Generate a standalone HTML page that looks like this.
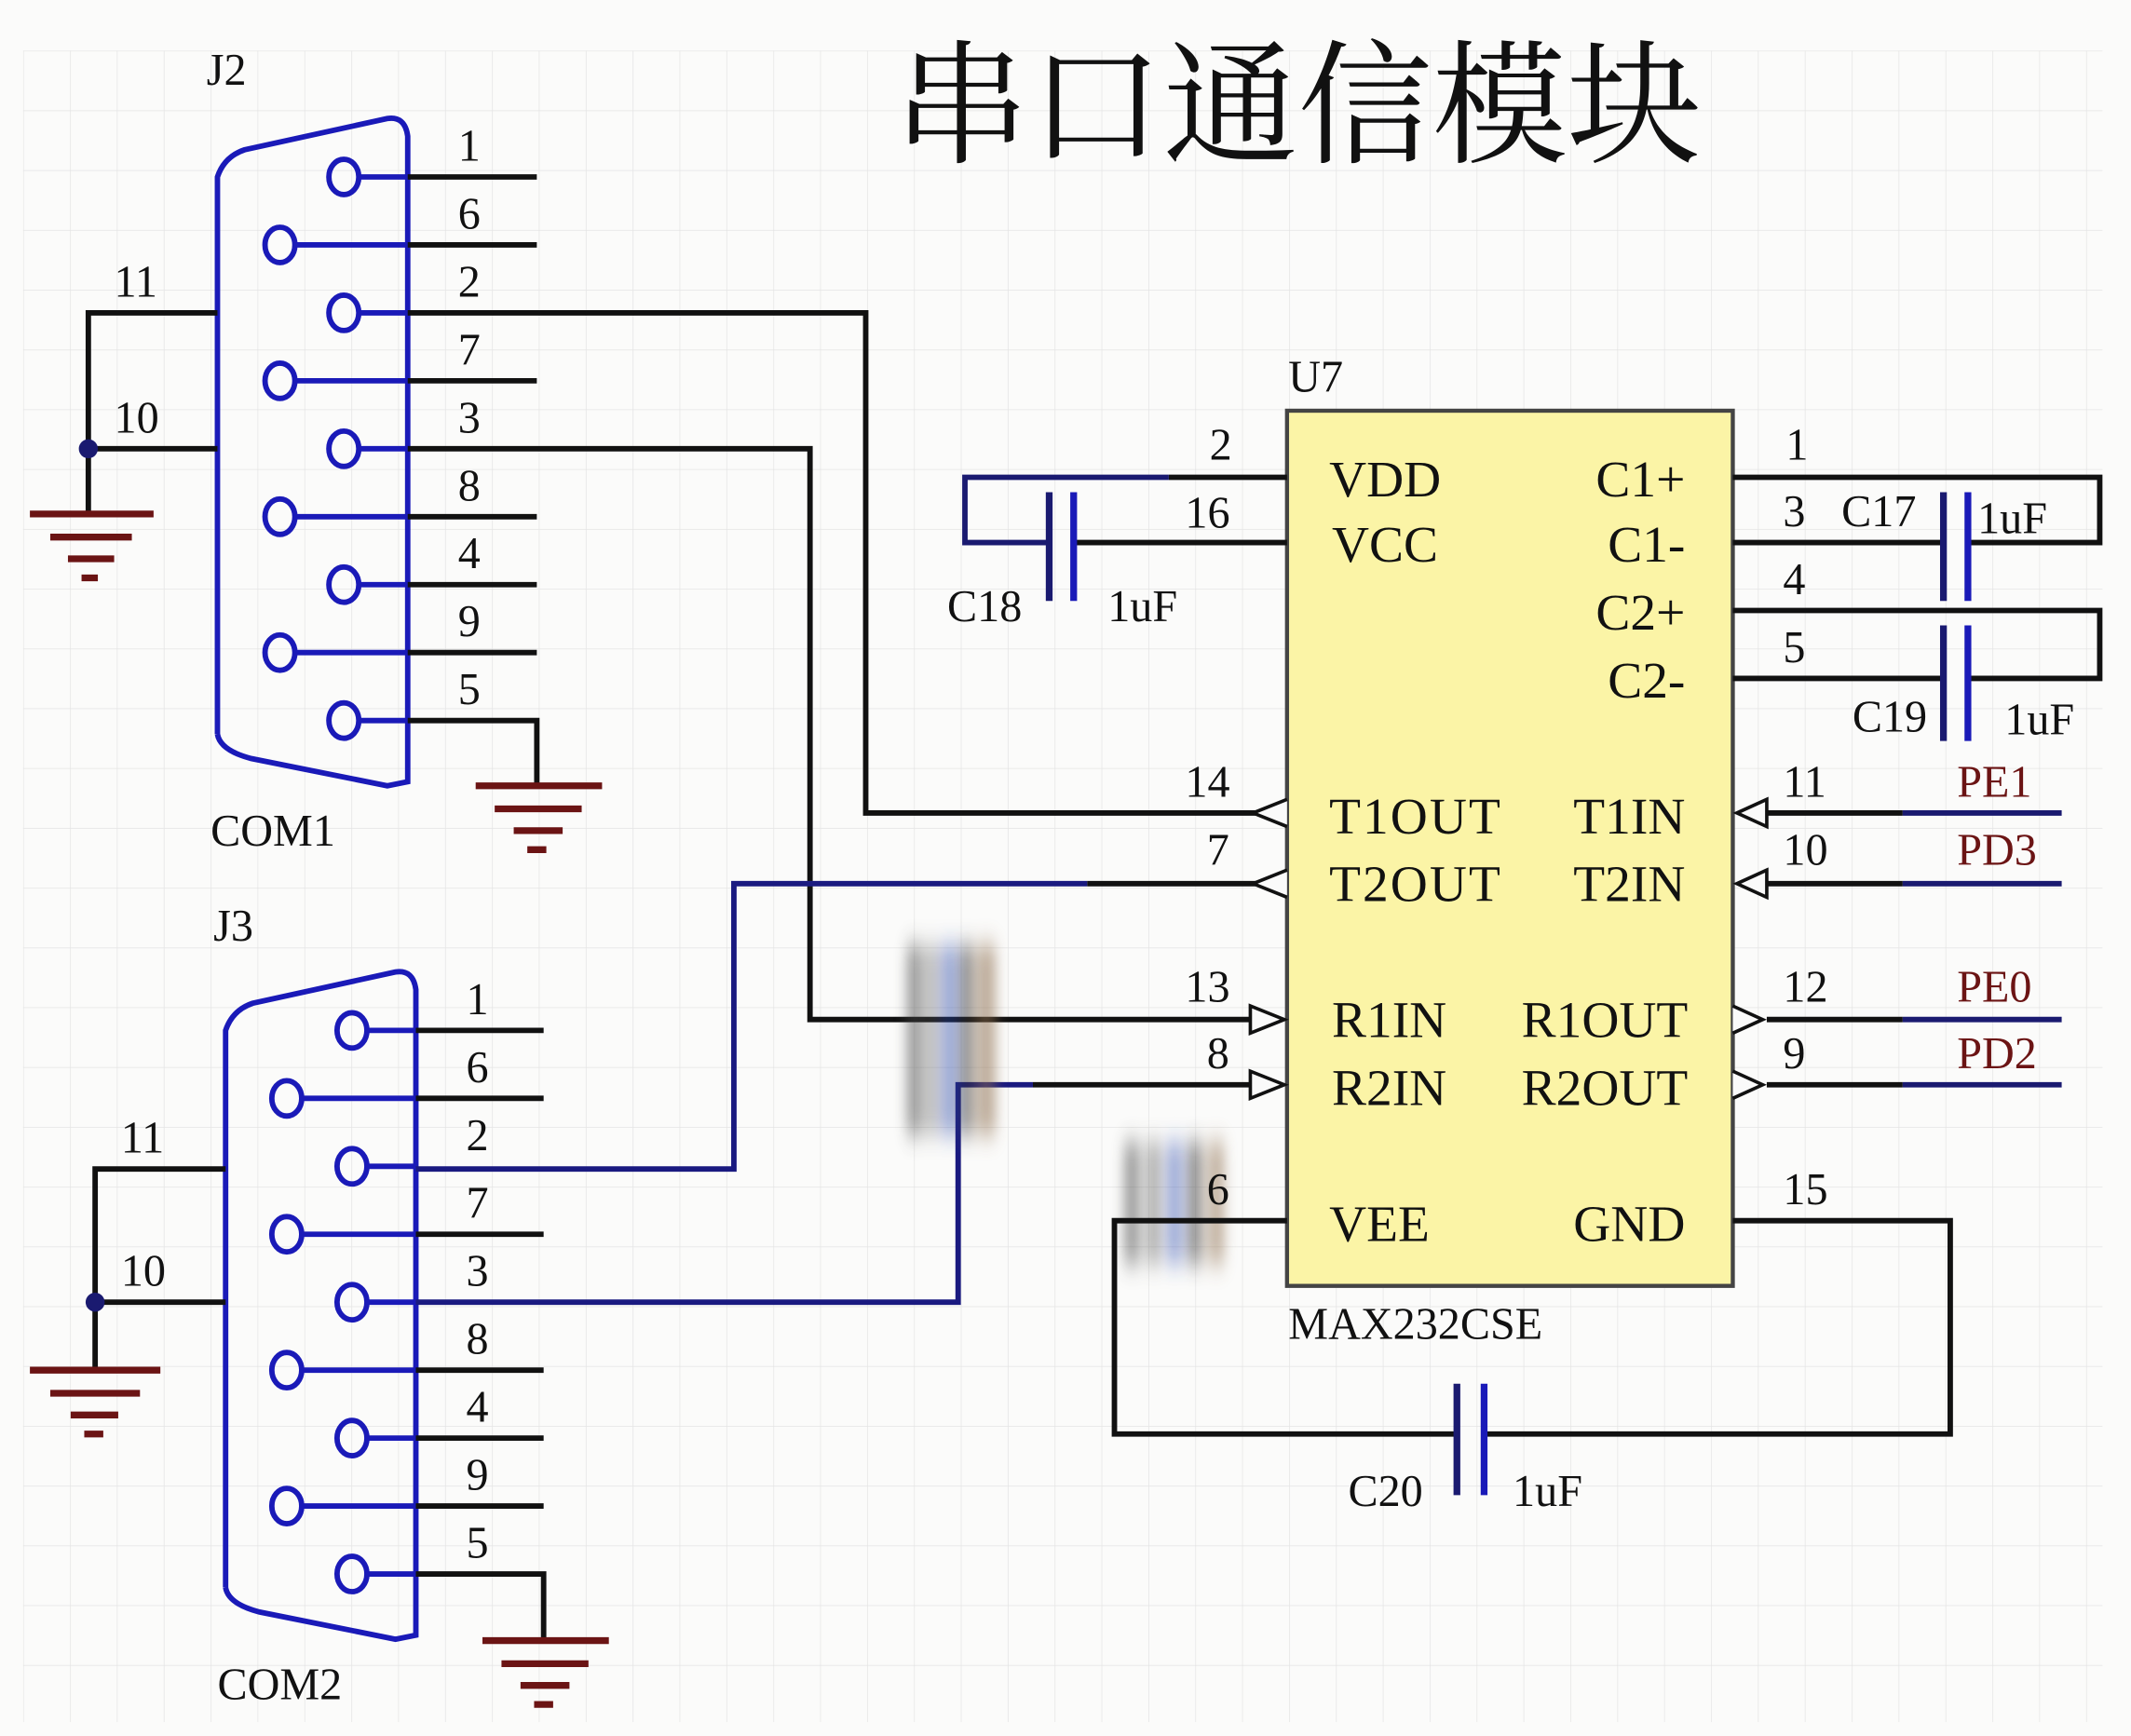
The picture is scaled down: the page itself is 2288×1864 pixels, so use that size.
<!DOCTYPE html>
<html><head><meta charset="utf-8"><style>
html,body{margin:0;padding:0;background:#fbfbfa;}
svg{display:block;}
text{font-family:"Liberation Serif","Noto Serif CJK SC",serif;fill:#111;}
</style></head><body>
<svg width="2288" height="1864" viewBox="0 0 1568 1277" xmlns="http://www.w3.org/2000/svg">
<defs>
<pattern id="g" width="34.5" height="44" patternUnits="userSpaceOnUse" x="17" y="37">
<path d="M0 0H34.5M0 0V44" stroke="#e4e4e4" stroke-width="1" fill="none"/>
</pattern>
<filter id="bl"><feGaussianBlur stdDeviation="5 9"/></filter>
</defs>
<rect x="17" y="37" width="1530" height="1230" fill="url(#g)"/>
<text x="658" y="112" font-size="99" style="font-family:'Noto Serif CJK SC',serif">串口通信模块</text>

<g stroke-width="4" fill="none">
<path d="M160 540V130Q165 115 180 110L285 87Q298 85 300 100V575L285 578L185 558Q162 552 160 540" stroke="#1a1ab8"/>
<g stroke="#1a1ab8">
<ellipse cx="253" cy="130" rx="11" ry="13"/><ellipse cx="206" cy="180" rx="11" ry="13"/>
<ellipse cx="253" cy="230" rx="11" ry="13"/><ellipse cx="206" cy="280" rx="11" ry="13"/>
<ellipse cx="253" cy="330" rx="11" ry="13"/><ellipse cx="206" cy="380" rx="11" ry="13"/>
<ellipse cx="253" cy="430" rx="11" ry="13"/><ellipse cx="206" cy="480" rx="11" ry="13"/>
<ellipse cx="253" cy="530" rx="11" ry="13"/>
<path d="M264 130H300M217 180H300M264 230H300M217 280H300M264 330H300M217 380H300M264 430H300M217 480H300M264 530H300"/>
</g>
<g stroke="#111">
<path d="M300 130H395M300 180H395M300 280H395M300 380H395M300 430H395M300 480H395"/>
<path d="M300 530H395V578"/>
<path d="M160 230H65V378M160 330H65"/>
<path d="M300 230H637V598H947"/>
<path d="M300 330H596V750H920"/>
</g>
<path d="M166 1168V758Q171 743 186 738L291 715Q304 713 306 728V1203L291 1206L191 1186Q168 1180 166 1168" stroke="#1a1ab8"/>
<g stroke="#1a1ab8">
<ellipse cx="259" cy="758" rx="11" ry="13"/><ellipse cx="211" cy="808" rx="11" ry="13"/>
<ellipse cx="259" cy="858" rx="11" ry="13"/><ellipse cx="211" cy="908" rx="11" ry="13"/>
<ellipse cx="259" cy="958" rx="11" ry="13"/><ellipse cx="211" cy="1008" rx="11" ry="13"/>
<ellipse cx="259" cy="1058" rx="11" ry="13"/><ellipse cx="211" cy="1108" rx="11" ry="13"/>
<ellipse cx="259" cy="1158" rx="11" ry="13"/>
<path d="M270 758H306M222 808H306M270 858H306M222 908H306M270 958H306M222 1008H306M270 1058H306M222 1108H306M270 1158H306"/>
</g>
<g stroke="#1a1a80">
<path d="M306 958H705V798H760"/>
<path d="M306 860H540V650H800"/>
</g>
<g stroke="#111">
<path d="M306 758H400M306 808H400M306 908H400M306 1008H400M306 1058H400M306 1108H400"/>
<path d="M306 1158H400V1207"/>
<path d="M166 860H70V1008M166 958H70"/>
<path d="M760 798H920M800 650H947"/>
</g>
</g>
<circle cx="65" cy="330" r="7" fill="#1a1a70"/>
<circle cx="70" cy="958" r="7" fill="#1a1a70"/>
<g stroke="#6b1414" stroke-width="5">
<path d="M22 378H113M37 395H97M50 411H84M60 425H72"/>
<path d="M350 578H443M364 595H428M378 611H414M388 625H402"/>
<path d="M22 1008H118M37 1025H103M52 1041H87M62 1055H76"/>
<path d="M355 1207H448M369 1224H433M383 1240H419M393 1254H407"/>
</g>
<g font-size="33">
<text x="152" y="62">J2</text><text x="155" y="622">COM1</text>
<text x="157" y="692">J3</text><text x="160" y="1250">COM2</text>
<text x="84" y="218">11</text><text x="84" y="318">10</text>
<text x="89" y="848">11</text><text x="89" y="946">10</text>
<text x="337" y="118">1</text><text x="337" y="168">6</text><text x="337" y="218">2</text><text x="337" y="268">7</text><text x="337" y="318">3</text><text x="337" y="368">8</text><text x="337" y="418">4</text><text x="337" y="468">9</text><text x="337" y="518">5</text>
<text x="343" y="746">1</text><text x="343" y="796">6</text><text x="343" y="846">2</text><text x="343" y="896">7</text><text x="343" y="946">3</text><text x="343" y="996">8</text><text x="343" y="1046">4</text><text x="343" y="1096">9</text><text x="343" y="1146">5</text>
</g>
<g filter="url(#bl)" opacity="0.6">
<rect x="668" y="695" width="10" height="140" fill="#444"/>
<rect x="683" y="695" width="6" height="140" fill="#555"/>
<rect x="694" y="695" width="8" height="140" fill="#2244aa"/>
<rect x="706" y="695" width="10" height="140" fill="#333"/>
<rect x="720" y="695" width="12" height="140" fill="#8a6a4a"/>
<rect x="828" y="840" width="10" height="90" fill="#444"/>
<rect x="845" y="840" width="8" height="90" fill="#555"/>
<rect x="860" y="840" width="8" height="90" fill="#2244aa"/>
<rect x="874" y="840" width="10" height="90" fill="#333"/>
<rect x="890" y="840" width="10" height="90" fill="#8a6a4a"/>
</g>
<rect x="947" y="302" width="328" height="644" fill="#fbf4a6" stroke="#444" stroke-width="3"/>
<g stroke="#111" stroke-width="4" fill="none">
<path d="M790 399H947M860 351H947"/>
<path d="M1275 351H1545V399H1448M1275 399H1430"/>
<path d="M1275 449H1545V499H1448M1275 499H1430"/>
<path d="M947 898H820V1055H1072M1092 1055H1435V898H1275"/>
<path d="M1300 598H1400M1300 650H1400M1300 750H1400M1300 798H1400"/>
</g>
<g stroke="#1a1a70" stroke-width="4" fill="none">
<path d="M860 351H710V399H772"/>
<path d="M1400 598H1517M1400 650H1517M1400 750H1517M1400 798H1517"/>
</g>
<g stroke="#1a1a70" stroke-width="5">
<path d="M772 362V442M1430 362V442M1430 460V545M1072 1018V1100"/>
</g>
<g stroke="#1a1ab8" stroke-width="5">
<path d="M790 362V442M1448 362V442M1448 460V545M1092 1018V1100"/>
</g>
<g stroke="#111" stroke-width="2.5" fill="#fafafa">
<path d="M947 588L922 598L947 608"/><path d="M947 640L922 650L947 660"/>
<path d="M920 740L945 750L920 760Z"/><path d="M920 788L945 798L920 808Z"/>
<path d="M1300 588L1278 598L1300 608Z"/><path d="M1300 640L1278 650L1300 660Z"/>
<path d="M1275 740L1297 750L1275 760"/><path d="M1275 788L1297 798L1275 808"/>
</g>
<g font-size="38">
<text x="978" y="365">VDD</text><text x="980" y="413">VCC</text>
<text x="1240" y="365" text-anchor="end">C1+</text><text x="1240" y="413" text-anchor="end">C1-</text>
<text x="1240" y="463" text-anchor="end">C2+</text><text x="1240" y="513" text-anchor="end">C2-</text>
<text x="978" y="613" textLength="126">T1OUT</text><text x="978" y="663" textLength="126">T2OUT</text>
<text x="1240" y="613" text-anchor="end">T1IN</text><text x="1240" y="663" text-anchor="end">T2IN</text>
<text x="980" y="763">R1IN</text><text x="980" y="813">R2IN</text>
<text x="1242" y="763" text-anchor="end">R1OUT</text><text x="1242" y="813" text-anchor="end">R2OUT</text>
<text x="978" y="913">VEE</text><text x="1240" y="913" text-anchor="end">GND</text>
</g>
<g font-size="33">
<text x="948" y="288">U7</text><text x="948" y="985">MAX232CSE</text>
<text x="890" y="338">2</text><text x="872" y="388">16</text>
<text x="697" y="457">C18</text><text x="815" y="457">1uF</text>
<text x="1314" y="338">1</text><text x="1312" y="387">3</text><text x="1355" y="387">C17</text><text x="1455" y="392">1uF</text>
<text x="1312" y="437">4</text><text x="1312" y="487">5</text>
<text x="1363" y="538">C19</text><text x="1475" y="540">1uF</text>
<text x="872" y="586">14</text><text x="888" y="636">7</text>
<text x="872" y="737">13</text><text x="888" y="786">8</text><text x="888" y="886">6</text>
<text x="1312" y="586">11</text><text x="1312" y="636">10</text>
<text x="1312" y="737">12</text><text x="1312" y="786">9</text><text x="1312" y="886">15</text>
<text x="992" y="1108">C20</text><text x="1113" y="1108">1uF</text>
<text x="1440" y="586" style="fill:#6b1414">PE1</text><text x="1440" y="636" style="fill:#6b1414">PD3</text>
<text x="1440" y="737" style="fill:#6b1414">PE0</text><text x="1440" y="786" style="fill:#6b1414">PD2</text>
</g>
</svg>
</body></html>
